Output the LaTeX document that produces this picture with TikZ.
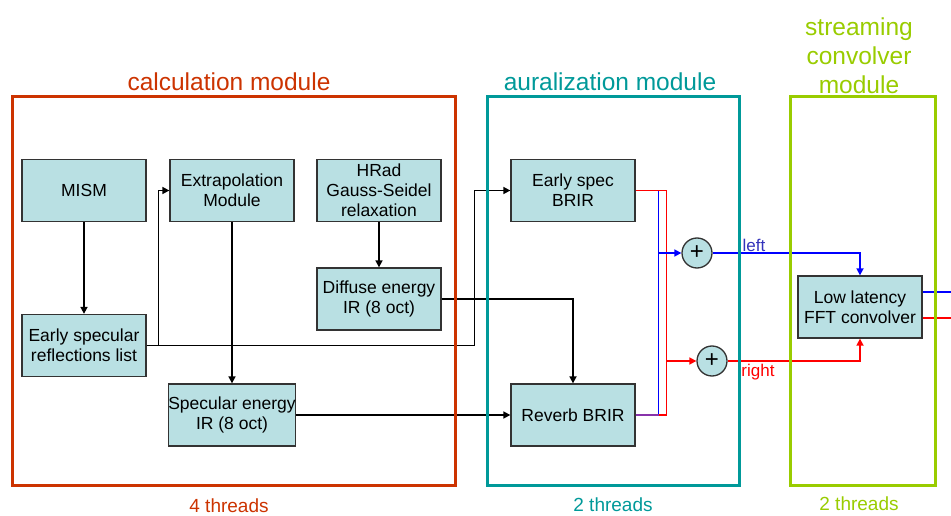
\documentclass[tikz,border=0pt]{standalone}
\usepackage{fontspec}
\setmainfont{Liberation Sans}
\usetikzlibrary{arrows.meta}
\definecolor{boxfill}{HTML}{B9E0E3}
\definecolor{boxline}{HTML}{333333}
\definecolor{calcc}{HTML}{CC3300}
\definecolor{aurc}{HTML}{009999}
\definecolor{strc}{HTML}{99CC00}
\definecolor{leftc}{HTML}{3333BB}
\definecolor{purp}{HTML}{8833AA}
\begin{document}
\begin{tikzpicture}[x=1pt,y=-1pt,
  blk/.style={draw=boxline, line width=1.3pt, fill=boxfill, minimum width=124pt, minimum height=62pt,
    inner sep=0pt, align=center, font=\fontsize{17.5}{20}\selectfont},
  sumnode/.style={circle, draw=boxline, line width=1.3pt, fill=boxfill, minimum size=30pt, inner sep=0pt,
    font=\fontsize{24}{24}\selectfont},
  arr/.style={line width=1.6pt, -{Triangle[length=7pt,width=7pt]}},
  conn/.style={line width=1.6pt},
  frame/.style={line width=3pt},
  title/.style={font=\fontsize{24.5}{29}\selectfont, align=center},
  thr/.style={font=\fontsize{19}{22}\selectfont},
  lab/.style={font=\fontsize{17}{20}\selectfont}]
\useasboundingbox (0,0) rectangle (951,516);
% boxes
\node[blk] (mism) at (84,190.5) {MISM};
\node[blk] (esl) at (84,345.5) {Early specular\\reflections list};
\node[blk] (extrap) at (232,190.5) {Extrapolation\\Module};
\node[blk] (hrad) at (379,190.5) {HRad\\Gauss-Seidel\\relaxation};
\node[blk] (diff) at (379,299) {Diffuse energy\\IR (8 oct)};
\node[blk] (spec) at (232,415) {Specular energy\\IR (8 oct)};
\node[blk] (espec) at (573,190.5) {Early spec\\BRIR};
\node[blk] (reverb) at (573,415) {Reverb BRIR};
\node[sumnode] (pl) at (697,253) {+};
\node[sumnode] (pr) at (712,361) {+};
\node[blk] (conv) at (860,307) {Low latency\\FFT convolver};
% black connectors
\draw[arr] (mism) -- (esl);
\draw[arr] (extrap) -- (spec);
\draw[arr] (hrad) -- (diff);
\draw[arr] (esl.east) -- ++(12,0) |- (extrap.west);
\draw[arr] (esl.east) -- ++(328,0) |- (espec.west);
\draw[arr] (diff.east) -| (reverb.north);
\draw[arr] (spec.east) -- (reverb.west);
% coloured connectors
\coordinate (bj) at (658,253);
\coordinate (rj) at (666,361);
\coordinate (ob) at (951,292);
\coordinate (orr) at (951,318);
\draw[conn, blue] (espec.east) -- ++(23,0) |- (reverb.east);
\draw[conn, red] (espec.east) -- ++(31,0) |- (reverb.east);
\draw[conn, purp] (reverb.east) -- ++(23,0);
\draw[arr, blue] (bj) -- (pl.west);
\draw[arr, red] (rj) -- (pr.west);
\draw[arr, blue] (pl.east) -| (conv.north);
\draw[arr, red] (pr.east) -| (conv.south);
\draw[conn, blue] (ob -| conv.east) -- (ob);
\draw[conn, red] (orr -| conv.east) -- (orr);
\node[lab, text=leftc] (llab) at (754,245) {left};
\node[lab, text=red] (rlab) at (758,372) {right};
% module frames
\draw[frame, calcc] (12,97) rectangle (455,485);
\draw[frame, aurc] (487,97) rectangle (739,485);
\draw[frame, strc] (790,97) rectangle (935,485);
\node[title, text=calcc] (t1) at (229,82) {calculation module};
\node[title, text=aurc] (t2) at (610,82) {auralization module};
\node[title, text=strc] (t3) at (859,56) {streaming\\convolver\\module};
\node[thr, text=calcc] (h1) at (229,506) {4 threads};
\node[thr, text=aurc] (h2) at (613,505) {2 threads};
\node[thr, text=strc] (h3) at (859,504) {2 threads};
\end{tikzpicture}
\end{document}
